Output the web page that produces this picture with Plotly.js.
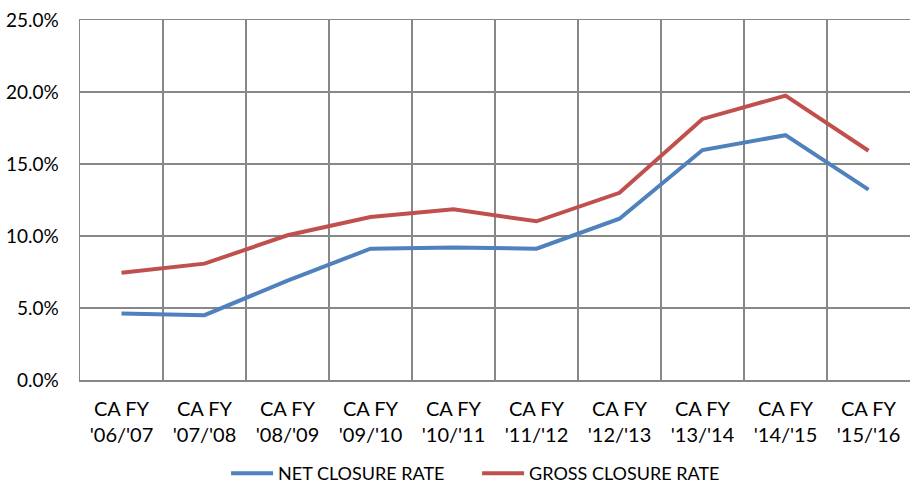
<!DOCTYPE html>
<html>
<head>
<meta charset="utf-8">
<script src="https://cdn.plot.ly/plotly-3.0.1.min.js"></script>
<style>html,body{margin:0;padding:0;background:#fff;}#chart{width:911px;height:485px;}</style>
</head>
<body>
<div id="chart"></div>
<script>
var categories = ["CA FY<br>'06/'07","CA FY<br>'07/'08","CA FY<br>'08/'09","CA FY<br>'09/'10","CA FY<br>'10/'11","CA FY<br>'11/'12","CA FY<br>'12/'13","CA FY<br>'13/'14","CA FY<br>'14/'15","CA FY<br>'15/'16"];
var netClosure = [0.0462, 0.0450, 0.0690, 0.0912, 0.0921, 0.0912, 0.1120, 0.1597, 0.1700, 0.1322];
var grossClosure = [0.0745, 0.0808, 0.1005, 0.1132, 0.1186, 0.1102, 0.1300, 0.1813, 0.1975, 0.1592];
var seriesNames = ["NET CLOSURE RATE", "GROSS CLOSURE RATE"];

var font = "Lato, Carlito, sans-serif";
var traces = [
  {x: categories, y: netClosure, name: seriesNames[0], type: "scatter", mode: "lines",
   line: {color: "#4F81BD", width: 4}},
  {x: categories, y: grossClosure, name: seriesNames[1], type: "scatter", mode: "lines",
   line: {color: "#C0504D", width: 4}}
];
var layout = {
  width: 911, height: 485,
  margin: {l: 80, r: 1, t: 20, b: 105, autoexpand: false},
  paper_bgcolor: "#fff", plot_bgcolor: "#fff",
  font: {family: font, size: 20, color: "#000"},
  showlegend: true,
  legend: {orientation: "h", x: 0.176, xanchor: "left", y: -0.26, yanchor: "middle",
           itemwidth: 42, entrywidth: 194,
           font: {family: font, size: 18, color: "#000"}, traceorder: "normal"},
  xaxis: {type: "category", range: [-0.5, 9.5], tickson: "boundaries", showgrid: true, gridcolor: "#878787", gridwidth: 1.5,
          showline: true, linecolor: "#878787", linewidth: 1.5, mirror: true, ticks: "", automargin: false,
          ticklabelstandoff: 10,
          tickfont: {family: font, size: 20, color: "#000"}, fixedrange: true},
  yaxis: {range: [0, 0.25], dtick: 0.05, tickformat: ".1%", showgrid: true, gridcolor: "#878787", gridwidth: 1.5,
          showline: true, linecolor: "#878787", linewidth: 1.5, ticks: "", ticklabelstandoff: 16, automargin: false,
          zeroline: false, tickfont: {family: font, size: 19, color: "#000"}, fixedrange: true}
};
Plotly.newPlot("chart", traces, layout, {displayModeBar: false, staticPlot: true});
</script>
</body>
</html>
